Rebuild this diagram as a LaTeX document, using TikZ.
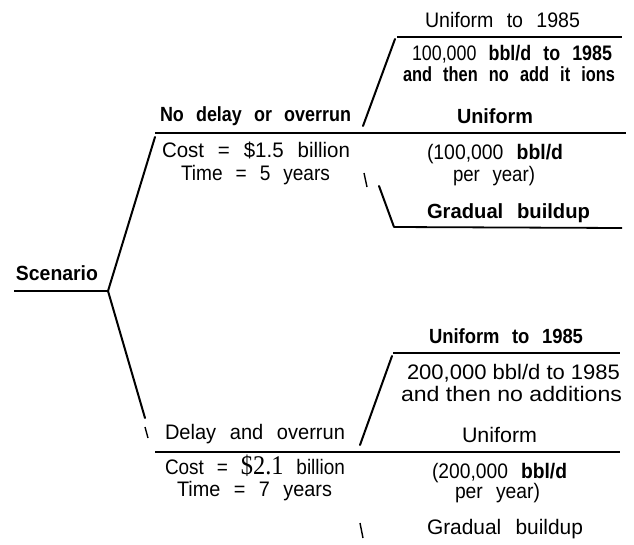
\documentclass[tikz,border=0pt]{standalone}
\usepackage{fontspec}
\setmainfont{Liberation Sans}
\newfontfamily\serifnum{Liberation Serif}
\usepackage{graphicx}
\newlength{\fitlen}
\newcommand{\fitw}[2]{\begingroup\spaceskip=0.68em\relax\settowidth{\fitlen}{#2}\pgfmathsetmacro{\fitsc}{#1/\fitlen}\scalebox{\fitsc}[1]{#2}\endgroup}
\newcommand{\fitn}[2]{\begingroup\settowidth{\fitlen}{#2}\pgfmathsetmacro{\fitsc}{#1/\fitlen}\scalebox{\fitsc}[1]{#2}\endgroup}
\tikzset{
  lbl/.style={anchor=base, inner sep=0pt, font=\fontsize{21}{24}\selectfont},
  blbl/.style={anchor=base, inner sep=0pt, font=\fontsize{20.5}{24}\selectfont\bfseries},
  wlbl/.style={anchor=base, inner sep=0pt, font=\fontsize{21}{25}\selectfont},
  branch/.style={line width=2pt, line cap=round},
  rule/.style={line width=1.8pt},
  tick/.style={line width=1.4pt},
}
\begin{document}
\begin{tikzpicture}[x=1pt,y=-1pt]
\useasboundingbox (0,0) rectangle (634,544);
% texts
\node[lbl]  (u85a)  at (502.5,27) {\fitw{155}{Uniform to 1985}};
\node[lbl]  (b1a)   at (512,60)   {\fitw{200}{100,000 \textbf{bbl/d to 1985}}};
\node[blbl] (b2a)   at (509,81)   {\fitw{212}{and then no add it ions}};
\node[blbl] (ndo)   at (255.5,121){\fitw{191}{No delay or overrun}};
\node[blbl] (unia)  at (495,123)  {\fitw{76}{Uniform}};
\node[lbl]  (costa) at (256,157)  {\fitw{188}{Cost = \$1.5 billion}};
\node[lbl]  (timea) at (255.5,180){\fitw{149}{Time = 5 years}};
\node[lbl]  (pya)   at (495,159)  {\fitw{136}{(100,000 \textbf{bbl/d}}};
\node[lbl]  (pyb)   at (494,181)  {\fitw{82}{per year)}};
\node[blbl] (gba)   at (508.5,218){\fitw{163}{Gradual buildup}};
\node[blbl] (scen)  at (57,280)   {\fitw{82}{Scenario}};
\node[blbl] (u85b)  at (506,343)  {\fitw{154}{Uniform to 1985}};
\node[wlbl] (b1b)   at (513.5,379){\fitn{213}{200,000 bbl/d to 1985}};
\node[wlbl] (b2b)   at (511.5,401){\fitn{221}{and then no additions}};
\node[lbl]  (dao)   at (255,439)  {\fitw{180}{Delay and overrun}};
\node[lbl]  (unib)  at (499.5,442){\fitw{75}{Uniform}};
\node[lbl]  (costb) at (255,474)  {\fitw{180}{Cost = {\serifnum\fontsize{27}{27}\selectfont\$2.1} billion}};
\node[lbl]  (timeb) at (254.5,496){\fitw{155}{Time = 7 years}};
\node[lbl]  (pyc)   at (499.5,478){\fitw{135}{(200,000 \textbf{bbl/d}}};
\node[lbl]  (pyd)   at (497.5,498){\fitw{85}{per year)}};
\node[lbl]  (gbb)   at (505,534)  {\fitw{156}{Gradual buildup}};
% junctions
\coordinate (s0) at (14,291);
\coordinate (root) at (108,291);
\coordinate (upEnd) at (155,137);
\coordinate (m1l) at (155,133);
\coordinate (m1r) at (626,133);
\coordinate (a1) at (363,126);
\coordinate (a2) at (395,39);
\coordinate (t1l) at (397,37);
\coordinate (t1r) at (622,37);
\coordinate (k1a) at (364,173);
\coordinate (k1b) at (367,187);
\coordinate (c1) at (379,186);
\coordinate (c2) at (394,227);
\coordinate (g1r) at (622,228);
\coordinate (dnEnd) at (145,418);
\coordinate (k2a) at (145,427);
\coordinate (k2b) at (148,438);
\coordinate (m2l) at (155,452);
\coordinate (m2r) at (620,452);
\coordinate (d1) at (360,445);
\coordinate (d2) at (392,356);
\coordinate (t2l) at (393,353);
\coordinate (t2r) at (620,353);
\coordinate (k3a) at (360,523);
\coordinate (k3b) at (363,538);
% lines
\draw[rule] (s0) -- (root);
\draw[branch] (root) -- (upEnd);
\draw[branch] (root) -- (dnEnd);
\draw[rule] (m1l) -- (m1r);
\draw[branch] (a1) -- (a2);
\draw[rule] (t1l) -- (t1r);
\draw[tick] (k1a) -- (k1b);
\draw[branch] (c1) -- (c2);
\draw[rule] (c2) -- (g1r);
\draw[tick] (k2a) -- (k2b);
\draw[rule] (m2l) -- (m2r);
\draw[branch] (d1) -- (d2);
\draw[rule] (t2l) -- (t2r);
\draw[tick] (k3a) -- (k3b);
\end{tikzpicture}
\end{document}
